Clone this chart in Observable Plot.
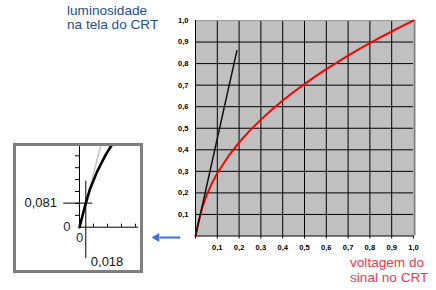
<!DOCTYPE html>
<html>
<head>
<meta charset="utf-8">
<script src="https://cdn.jsdelivr.net/npm/d3@7"></script>
<script src="https://cdn.jsdelivr.net/npm/@observablehq/plot@0.6"></script>
<style>
  html, body { margin: 0; padding: 0; background: #fff; }
  #wrap { position: relative; width: 436px; height: 290px; overflow: hidden; font-family: "Liberation Sans", Arial, sans-serif; }
  #main { position: absolute; left: 0; top: 0; }
  .title { position: absolute; font-size: 13.6px; line-height: 14.4px; white-space: nowrap; }
  #ytitle { left: 67px; top: 3.6px; color: #1d4f91; }
  #xtitle { left: 350px; top: 256.3px; color: #ec3a55; }
  #inset { position: absolute; left: 13px; top: 143px; width: 124px; height: 124px; border: 3px solid #7f7f7f; background: #fff; }
  #inset svg { display: block; }
</style>
</head>
<body>
<div id="wrap">
  <div id="main"></div>
  <div class="title" id="ytitle"></div>
  <div class="title" id="xtitle"></div>
  <div id="inset"></div>
</div>
<script>
// ---- data ----
const yTitleLines = ["luminosidade", "na tela do CRT"];
const xTitleLines = ["voltagem do", "sinal no CRT"];

const tickValues = [0.1, 0.2, 0.3, 0.4, 0.5, 0.6, 0.7, 0.8, 0.9, 1.0];
const tickLabels = ["0,1", "0,2", "0,3", "0,4", "0,5", "0,6", "0,7", "0,8", "0,9", "1,0"];
const gridValues = [0.1, 0.2, 0.3, 0.4, 0.5, 0.6, 0.7, 0.8, 0.9];

// red curve: signal voltage vs luminosity
const voltage =    [0, 0.018, 0.03, 0.05, 0.075, 0.1, 0.15, 0.2, 0.25, 0.3, 0.35, 0.4, 0.45, 0.5, 0.55, 0.6, 0.65, 0.7, 0.75, 0.8, 0.85, 0.9, 0.95, 1.0];
const luminosity = [0, 0.081, 0.128, 0.186, 0.244, 0.291, 0.369, 0.434, 0.490, 0.540, 0.586, 0.629, 0.668, 0.705, 0.741, 0.774, 0.806, 0.837, 0.867, 0.895, 0.923, 0.949, 0.975, 1.0];

// black straight segment
const segX = [0, 0.19];
const segY = [0, 0.86];

// blue arrow (pointing to the inset)
const arrowShaftX = [-0.07, -0.165];
const arrowY = -0.007;
const arrowHeadX = -0.178;

// inset (zoom near origin)
const insetCurveX = [0, 0.018, 0.03, 0.05, 0.075, 0.1];
const insetCurveY = [0, 0.081, 0.128, 0.186, 0.244, 0.291];
const insetLineX = [0, 0.065];
const insetLineY = [0, 0.2925];
const insetYTicks = [0.04, 0.08, 0.12, 0.16, 0.2, 0.24];
const insetXTicks = [0.04, 0.08, 0.12, 0.16];
const crossX = 0.018, crossY = 0.081;
const crossHSpan = [-0.045, 0.038];
const crossVSpan = [-0.106, 0.155];
const insetXMax = 0.1686, insetYMax = 0.2713;
const labelCrossY = "0,081";
const labelCrossX = "0,018";
const labelZero = "0";
const labelCrossXPos = -0.1176;

// ---- titles ----
document.getElementById("ytitle").innerHTML = yTitleLines.join("<br>");
document.getElementById("xtitle").innerHTML = xTitleLines.join("<br>");

const fmt = d => tickLabels[tickValues.indexOf(d)];
const red = voltage.map((v, i) => ({x: v, y: luminosity[i]}));
const seg = segX.map((v, i) => ({x: v, y: segY[i]}));

const main = Plot.plot({
  width: 436,
  height: 290,
  marginLeft: 195,
  marginRight: 23,
  marginTop: 20,
  marginBottom: 54.5,
  x: {domain: [0, 1]},
  y: {domain: [0, 1]},
  style: {fontFamily: "'Liberation Sans', Arial, sans-serif", fontSize: "7.6px", fontWeight: "bold", background: "transparent", overflow: "visible"},
  marks: [
    Plot.frame({fill: "#c0c0c0", stroke: "none"}),
    Plot.ruleX(gridValues, {stroke: "#000", strokeWidth: 1}),
    Plot.ruleY(gridValues, {stroke: "#000", strokeWidth: 1}),
    Plot.ruleY([1], {stroke: "#9a9a9a", strokeWidth: 1}),
    Plot.ruleX([1], {stroke: "#808080", strokeWidth: 2, dx: 1}),
    Plot.ruleY([0], {stroke: "#000", strokeWidth: 1}),
    Plot.ruleX([0], {stroke: "#000", strokeWidth: 1, insetBottom: -3}),
    Plot.axisX({ticks: tickValues, tickFormat: fmt, tickSize: 3, tickPadding: 5.5, label: null, stroke: "#000", fill: "#000", letterSpacing: "-0.3px"}),
    Plot.axisY({ticks: tickValues, tickFormat: fmt, tickSize: 0, tickPadding: 7, label: null, fill: "#000", letterSpacing: "-0.3px"}),
    Plot.line(red, {x: "x", y: "y", stroke: "#ff0000", strokeWidth: 2}),
    Plot.line(seg, {x: "x", y: "y", stroke: "#111", strokeWidth: 1.5}),
    Plot.link([{x1: arrowShaftX[0], x2: arrowShaftX[1], y: arrowY}], {x1: "x1", x2: "x2", y1: "y", y2: "y", stroke: "#3f6ee8", strokeWidth: 2}),
    Plot.dot([{x: arrowHeadX, y: arrowY}], {x: "x", y: "y", symbol: "triangle2", rotate: -90, r: 4.2, fill: "#3f6ee8", stroke: "none"})
  ]
});
document.getElementById("main").append(main);

const ic = insetCurveX.map((v, i) => ({x: v, y: insetCurveY[i]}));
const il = insetLineX.map((v, i) => ({x: v, y: insetLineY[i]}));

const inset = Plot.plot({
  width: 124,
  height: 124,
  margin: 0,
  x: {domain: [-0.18, 0.1743], axis: null},
  y: {domain: [-0.1455, insetYMax], axis: null},
  style: {fontFamily: "'Liberation Sans', Arial, sans-serif", fontSize: "13px", background: "#fff", overflow: "hidden"},
  marks: [
    Plot.line(il, {x: "x", y: "y", stroke: "#c8c8c8", strokeWidth: 1.6, clip: true}),
    Plot.ruleX([0], {y1: 0, y2: insetYMax, stroke: "#000", strokeWidth: 1}),
    Plot.ruleY([0], {x1: 0, x2: insetXMax, stroke: "#000", strokeWidth: 1}),
    Plot.ruleY(insetYTicks, {x1: 0, x2: 0, insetLeft: -4, stroke: "#000", strokeWidth: 1}),
    Plot.ruleX(insetXTicks, {y1: 0, y2: 0, insetTop: -3, stroke: "#000", strokeWidth: 1}),
    Plot.ruleY([crossY], {x1: crossHSpan[0], x2: crossHSpan[1], stroke: "#000", strokeWidth: 1}),
    Plot.ruleX([crossX], {y1: crossVSpan[0], y2: crossVSpan[1], stroke: "#000", strokeWidth: 1}),
    Plot.line(ic, {x: "x", y: "y", stroke: "#000", strokeWidth: 2.6, clip: true}),
    Plot.text([labelCrossY], {x: 0, y: crossY, text: d => d, dx: -22.5, textAnchor: "end", fill: "#111"}),
    Plot.text([labelCrossX], {x: crossX, y: labelCrossXPos, text: d => d, dx: 5, textAnchor: "start", fill: "#111"}),
    Plot.text([labelZero], {x: 0, y: 0, text: d => d, dx: -9, textAnchor: "end", fill: "#1a2a55"}),
    Plot.text([labelZero], {x: 0, y: 0, text: d => d, dx: 0, dy: 11, textAnchor: "middle", fill: "#1a2a55"})
  ]
});
document.getElementById("inset").append(inset);
</script>
</body>
</html>
